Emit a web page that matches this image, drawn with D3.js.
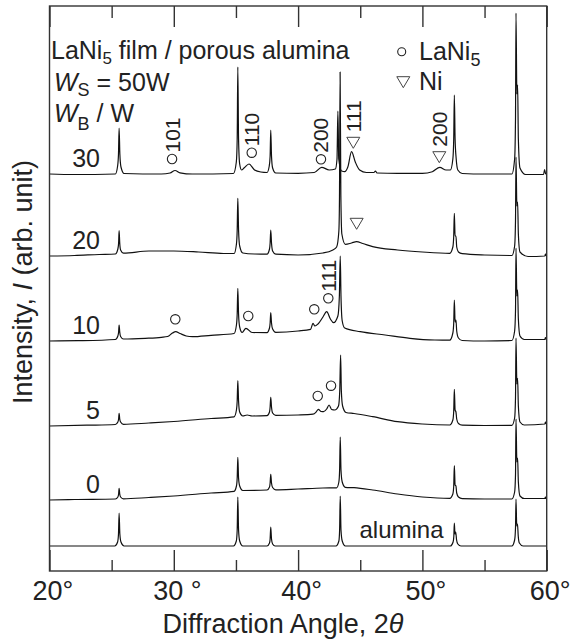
<!DOCTYPE html>
<html>
<head>
<meta charset="utf-8">
<script src="https://cdn.jsdelivr.net/npm/d3@7"></script>
<style>
  body { margin: 0; background: #fff; }
  text { font-family: "Liberation Sans", Arial, Helvetica, sans-serif; fill: #222; }
</style>
</head>
<body>
<div id="main"></div>
<script>
const ctx = {
    w: 572,
    h: 644
};
// plot frame in pixels
const frame = { left: 49.5, right: 546.7, top: 6, bottom: 571 };

// 2theta axis
const xDomain = [20, 60];
const majorTicks = [20, 30, 40, 50, 60];
const majorTickLabels = ['20°', '30 °', '40°', '50°', '60°'];
const minorTicks = [25, 35, 45, 55];

// curves, bottom to top
const curveNames = ['alumina', '0', '5', '10', '20', '30'];
const curveOffsets = [25, 71, 145, 230, 315, 397];

// [2theta, intensity above the curve's own zero]
const patternAlumina = [
    [20, 0], [25.25, 0], [25.48, 4], [25.55, 12], [25.6, 33], [25.66, 12], [25.75, 4], [26.0, 0],
    [34.8, 0], [35.03, 5], [35.1, 16], [35.15, 49], [35.21, 16], [35.3, 5], [35.55, 0],
    [37.5, 0], [37.7, 3], [37.75, 7], [37.8, 19], [37.86, 7], [37.95, 2], [38.15, 0],
    [43.05, 0], [43.28, 5], [43.34, 16], [43.39, 50], [43.45, 16], [43.55, 5], [43.8, 0],
    [52.25, 0], [52.47, 4], [52.53, 10], [52.57, 23], [52.62, 12], [52.68, 14], [52.75, 6], [52.85, 2], [53.1, 0],
    [57.2, 0], [57.42, 6], [57.49, 18], [57.53, 47], [57.59, 20], [57.65, 22], [57.71, 10], [57.8, 3], [58.1, 0], [60, 0]
];
const pattern0 = [
    [20, 0], [22, 0.5], [25.3, 1], [25.5, 3], [25.56, 6], [25.6, 11.7], [25.65, 6], [25.72, 3], [25.95, 1.2],
    [28, 2.5], [30, 4], [33, 7], [34.85, 8.7], [35.04, 14], [35.1, 22], [35.15, 42.7], [35.21, 22], [35.3, 14], [35.55, 9.5],
    [37.5, 10], [37.7, 13], [37.75, 17], [37.8, 25.7], [37.86, 17], [37.95, 12.5], [38.2, 10.2],
    [40, 11], [42, 12], [43.1, 12.2], [43.28, 18], [43.34, 30], [43.39, 63], [43.45, 30], [43.55, 18], [43.8, 12.7],
    [44.5, 12.3], [46, 10], [48, 6], [50, 3], [52.2, 1.6], [52.45, 6], [52.52, 14], [52.57, 34.3], [52.63, 15], [52.7, 14], [52.76, 7], [52.9, 3], [53.2, 1.4],
    [55, 1], [57.2, 1], [57.42, 8], [57.49, 25], [57.53, 81], [57.6, 38], [57.66, 42], [57.72, 18], [57.85, 4], [58.2, 1.5],
    [59.85, 1.5], [59.9, 3], [59.95, 1.5], [60, 1.5]
];
const pattern5 = [
    [20, 0], [23, 0.8], [25.3, 1.5], [25.5, 4], [25.56, 7], [25.6, 12.7], [25.65, 7], [25.72, 4], [25.95, 1.7],
    [28, 3], [30, 4.5], [33, 7.5], [34.85, 9.2], [35.04, 16], [35.1, 25], [35.15, 45.3], [35.21, 25], [35.3, 14], [35.55, 10], [35.9, 11], [36.3, 10],
    [37.5, 10.4], [37.7, 14], [37.75, 19], [37.8, 28.7], [37.86, 19], [37.95, 13], [38.2, 10.6],
    [40, 11], [41.2, 11.8], [41.45, 14], [41.63, 16.7], [41.85, 14.5], [42.05, 14.3], [42.3, 17], [42.49, 21], [42.7, 16.5], [42.95, 16],
    [43.25, 20], [43.35, 35], [43.42, 71], [43.48, 35], [43.58, 20], [43.85, 13.5],
    [44.5, 12.5], [46, 9.3], [48, 4.3], [50, 2], [52.2, 1], [52.45, 6], [52.52, 15], [52.57, 36.7], [52.63, 16], [52.7, 14], [52.76, 7], [52.9, 2.5], [53.2, 0.8],
    [55, 0.5], [57.2, 0.7], [57.42, 8], [57.49, 28], [57.53, 88], [57.6, 42], [57.66, 47.7], [57.72, 20], [57.85, 4], [58.2, 1],
    [59.85, 2], [59.9, 4], [59.95, 2], [60, 2]
];
const pattern10 = [
    [20, 0], [22.3, 0.3], [25.3, 1.5], [25.5, 5], [25.56, 9], [25.6, 16], [25.65, 9], [25.72, 4.5], [25.95, 2],
    [27.7, 2.7], [29, 3.7], [29.5, 4.5], [29.9, 8], [30.15, 9.3], [30.5, 7.5], [31, 5], [31.5, 4.3], [33, 5.7],
    [34.85, 7.5], [35.04, 16], [35.1, 27], [35.15, 52.7], [35.21, 27], [35.3, 14], [35.5, 8.5], [35.8, 12.7], [36.3, 8.5],
    [37.5, 8.4], [37.7, 13], [37.75, 18], [37.8, 28.3], [37.86, 18], [37.95, 12], [38.2, 8.7],
    [40, 10], [41, 11.7], [41.2, 17.7], [41.35, 15], [41.6, 17], [42, 24], [42.3, 29.3], [42.6, 22], [42.85, 18.3],
    [43.2, 25], [43.32, 45], [43.39, 85], [43.45, 45], [43.55, 20], [43.75, 13],
    [45, 9.3], [47, 6], [49, 2.7], [51, 1], [52.2, 0.8], [52.45, 8], [52.52, 18], [52.57, 41], [52.63, 19], [52.7, 21], [52.76, 10], [52.9, 3], [53.2, 0.5],
    [55, 0], [57.2, 0.5], [57.42, 10], [57.49, 30], [57.53, 93], [57.6, 45], [57.66, 51], [57.72, 22], [57.85, 5], [58.2, 1.5],
    [59.85, 1.7], [59.9, 3.5], [59.95, 1.7], [60, 1.7]
];
const pattern20 = [
    [20, 0], [22, 0.5], [24, 1.5], [25.3, 2], [25.5, 7], [25.56, 13], [25.6, 25.3], [25.65, 13], [25.72, 6], [25.95, 2.8],
    [28, 5], [30, 5], [32, 4], [34, 2.5], [34.85, 2.5], [35.04, 12], [35.1, 26], [35.15, 57.7], [35.21, 26], [35.3, 10], [35.55, 3], [36.5, 2],
    [37.5, 1.8], [37.7, 7], [37.75, 13], [37.8, 26], [37.86, 13], [37.95, 5], [38.2, 1.8],
    [40, 1], [42, 3], [42.8, 6], [43.1, 9], [43.28, 25], [43.33, 60], [43.38, 184], [43.44, 60], [43.52, 22], [43.8, 11.7],
    [44.3, 13], [44.7, 14.3], [45.2, 12.5], [46, 9.3], [48, 6], [50, 4],
    [52.2, 2.7], [52.45, 9], [52.52, 20], [52.57, 42.7], [52.63, 20], [52.7, 20], [52.76, 9], [52.9, 4], [53.2, 2.3],
    [55, 1], [57.2, 0.5], [57.42, 10], [57.49, 35], [57.53, 99], [57.6, 50], [57.66, 54], [57.72, 22], [57.85, 4], [58.5, -0.5],
    [59.85, 0], [59.9, 2], [59.95, 0], [60, 0]
];
const pattern30 = [
    [20, 0], [22, -0.5], [25.3, 0], [25.48, 8], [25.55, 20], [25.6, 46], [25.66, 20], [25.75, 7], [26, 0.5],
    [29, 0], [29.7, 1], [30.1, 3.5], [30.5, 1.2], [31.5, 0],
    [34.8, 0.5], [35.03, 12], [35.1, 35], [35.15, 107], [35.21, 35], [35.3, 10], [35.45, 4], [35.65, 6], [36.05, 10], [36.5, 4], [37, 2],
    [37.5, 1.5], [37.68, 8], [37.75, 18], [37.8, 44], [37.86, 18], [37.95, 6], [38.2, 1],
    [40, 0.7], [41.3, 1.5], [41.9, 6.7], [42.5, 4], [43.0, 5], [43.13, 15], [43.2, 63], [43.27, 15], [43.5, 3], [43.75, 2.3],
    [44.0, 7], [44.3, 22.3], [44.6, 12], [44.95, 4], [45.5, 1.5], [46.1, 1.5], [46.22, 3], [46.35, 1],
    [48, 0.7], [50, 0.7], [50.8, 2.3], [51.4, 6.7], [51.9, 4], [52.25, 4], [52.45, 15], [52.52, 35], [52.57, 79], [52.63, 35], [52.72, 15], [52.85, 4], [53.2, 0.5],
    [55, 0], [57.2, 0], [57.42, 15], [57.49, 55], [57.53, 161], [57.6, 80], [57.66, 89], [57.72, 35], [57.85, 6], [58.3, -0.5],
    [59.75, -0.5], [59.83, 4.5], [59.92, 0], [60, 0]
];
const patterns = [patternAlumina, pattern0, pattern5, pattern10, pattern20, pattern30];

// phase markers [2theta, absolute intensity]
const laNi5Marks = [
    [29.86, 412], [36.27, 418.3], [41.84, 411.7],
    [30.12, 251.7], [35.99, 255], [41.30, 261.7], [42.43, 272.7],
    [41.58, 175], [42.65, 185.3]
];
const niMarks = [[44.44, 428.7], [51.36, 414.3], [44.71, 347.7]];
// hkl labels: [text, phase, index in the marks list]
const hklLabels = [
    ['101', 'c', 0], ['110', 'c', 1], ['200', 'c', 2], ['111', 'c', 6],
    ['111', 't', 0], ['200', 't', 1]
];

let x, y;

const triPath = "M-6.5,-5 L6.5,-5 L0,6 Z";

function createViz() {
    const svg = d3.select("#main").append("svg")
        .attr("width", ctx.w)
        .attr("height", ctx.h);

    x = d3.scaleLinear().domain(xDomain).range([frame.left, frame.right]);
    y = d3.scaleLinear().domain([0, frame.bottom - frame.top]).range([frame.bottom, frame.top]);

    svg.append("clipPath").attr("id", "plotClip")
        .append("rect")
        .attr("x", frame.left).attr("y", frame.top)
        .attr("width", frame.right - frame.left)
        .attr("height", frame.bottom - frame.top);

    // patterns
    const line = d3.line()
        .x(d => x(d[0]))
        .y(d => y(d[1]))
        .curve(d3.curveMonotoneX);

    svg.append("g").attr("clip-path", "url(#plotClip)")
        .selectAll("path")
        .data(patterns)
        .enter().append("path")
        .attr("d", (d, i) => line(d.map(p => [p[0], p[1] + curveOffsets[i]])))
        .attr("fill", "none")
        .attr("stroke", "#111")
        .attr("stroke-width", 1.2)
        .attr("stroke-linejoin", "round");

    // frame
    svg.append("rect")
        .attr("x", frame.left).attr("y", frame.top)
        .attr("width", frame.right - frame.left)
        .attr("height", frame.bottom - frame.top)
        .attr("fill", "none")
        .attr("stroke", "#333")
        .attr("stroke-width", 1.4);

    // ticks inside, bottom and top
    const axisB = svg.append("g").attr("transform", `translate(0,${frame.bottom})`)
        .call(d3.axisBottom(x).tickValues(majorTicks).tickSize(-21).tickFormat((d, i) => majorTickLabels[i]).tickPadding(10));
    axisB.select(".domain").remove();
    axisB.selectAll("line").attr("stroke", "#333").attr("stroke-width", 1.4);
    axisB.selectAll("text")
        .attr("dx", 3)
        .style("font-size", "27px")
        .style("font-family", "'Liberation Sans', Arial, sans-serif")
        .attr("fill", "#222");

    const axisBm = svg.append("g").attr("transform", `translate(0,${frame.bottom})`)
        .call(d3.axisBottom(x).tickValues(minorTicks).tickSize(-11).tickFormat(""));
    axisBm.select(".domain").remove();
    axisBm.selectAll("line").attr("stroke", "#333").attr("stroke-width", 1.4);

    const axisT = svg.append("g").attr("transform", `translate(0,${frame.top})`)
        .call(d3.axisTop(x).tickValues(majorTicks).tickSize(-21).tickFormat(""));
    axisT.select(".domain").remove();
    axisT.selectAll("line").attr("stroke", "#333").attr("stroke-width", 1.4);

    const axisTm = svg.append("g").attr("transform", `translate(0,${frame.top})`)
        .call(d3.axisTop(x).tickValues(minorTicks).tickSize(-12).tickFormat(""));
    axisTm.select(".domain").remove();
    axisTm.selectAll("line").attr("stroke", "#333").attr("stroke-width", 1.4);

    // axis titles
    const xl = svg.append("text")
        .attr("x", 283).attr("y", 633)
        .attr("text-anchor", "middle")
        .style("font-size", "27px");
    xl.append("tspan").text("Diffraction Angle, 2");
    xl.append("tspan").style("font-style", "italic").text("θ");

    const yl = svg.append("text")
        .attr("transform", "translate(32,282) rotate(-90)")
        .attr("text-anchor", "middle")
        .style("font-size", "27px");
    yl.append("tspan").text("Intensity, ");
    yl.append("tspan").style("font-style", "italic").text("I");
    yl.append("tspan").text(" (arb. unit)");

    // curve labels
    svg.selectAll(".curveLabel")
        .data(curveNames)
        .enter().append("text")
        .attr("class", "curveLabel")
        .attr("x", (d, i) => i === 0 ? x(51.7) : x(24.06))
        .attr("y", (d, i) => i === 0 ? y(curveOffsets[i] + 8) : y(curveOffsets[i] + 7))
        .attr("text-anchor", "end")
        .style("font-size", (d, i) => i === 0 ? "24px" : "25px")
        .text(d => d);

    // markers
    svg.selectAll(".cMark")
        .data(laNi5Marks)
        .enter().append("circle")
        .attr("class", "cMark")
        .attr("cx", d => x(d[0]))
        .attr("cy", d => y(d[1]))
        .attr("r", 4.7)
        .attr("fill", "none")
        .attr("stroke", "#222")
        .attr("stroke-width", 1.1);

    svg.selectAll(".tMark")
        .data(niMarks)
        .enter().append("path")
        .attr("class", "tMark")
        .attr("d", triPath)
        .attr("transform", d => `translate(${x(d[0])},${y(d[1])})`)
        .attr("fill", "none")
        .attr("stroke", "#444")
        .attr("stroke-width", 1);

    svg.selectAll(".hkl")
        .data(hklLabels)
        .enter().append("text")
        .attr("class", "hkl")
        .attr("transform", d => {
            const m = d[1] === 'c' ? laNi5Marks[d[2]] : niMarks[d[2]];
            const gap = d[1] === 'c' ? 6.5 : 10;
            return `translate(${x(m[0]) + 7.5},${y(m[1]) - gap}) rotate(-90)`;
        })
        .attr("text-anchor", "start")
        .style("font-size", "21px")
        .text(d => d[0]);

    // header texts
    const t1 = svg.append("text").attr("x", 51).attr("y", 59).style("font-size", "25px");
    t1.append("tspan").text("LaNi");
    t1.append("tspan").attr("dy", 5).style("font-size", "17px").text("5");
    t1.append("tspan").attr("dy", -5).text(" film / porous alumina");

    const t2 = svg.append("text").attr("x", 54).attr("y", 91).style("font-size", "25px");
    t2.append("tspan").style("font-style", "italic").text("W");
    t2.append("tspan").attr("dy", 5).style("font-size", "18px").text("S");
    t2.append("tspan").attr("dy", -5).text(" = 50W");

    const t3 = svg.append("text").attr("x", 54).attr("y", 122).style("font-size", "25px");
    t3.append("tspan").style("font-style", "italic").text("W");
    t3.append("tspan").attr("dy", 8).style("font-size", "18px").text("B");
    t3.append("tspan").attr("dy", -8).text(" / W");

    // legend
    svg.append("circle")
        .attr("cx", 401.7).attr("cy", 51.7).attr("r", 4)
        .attr("fill", "none").attr("stroke", "#222").attr("stroke-width", 1.1);
    const l1 = svg.append("text").attr("x", 419).attr("y", 60).style("font-size", "25px");
    l1.append("tspan").text("LaNi");
    l1.append("tspan").attr("dy", 6).style("font-size", "18px").text("5");

    svg.append("path")
        .attr("d", triPath)
        .attr("transform", "translate(403.3,81.7)")
        .attr("fill", "none").attr("stroke", "#444").attr("stroke-width", 1);
    svg.append("text").attr("x", 419).attr("y", 90).style("font-size", "25px").text("Ni");
}

createViz();
</script>
</body>
</html>
